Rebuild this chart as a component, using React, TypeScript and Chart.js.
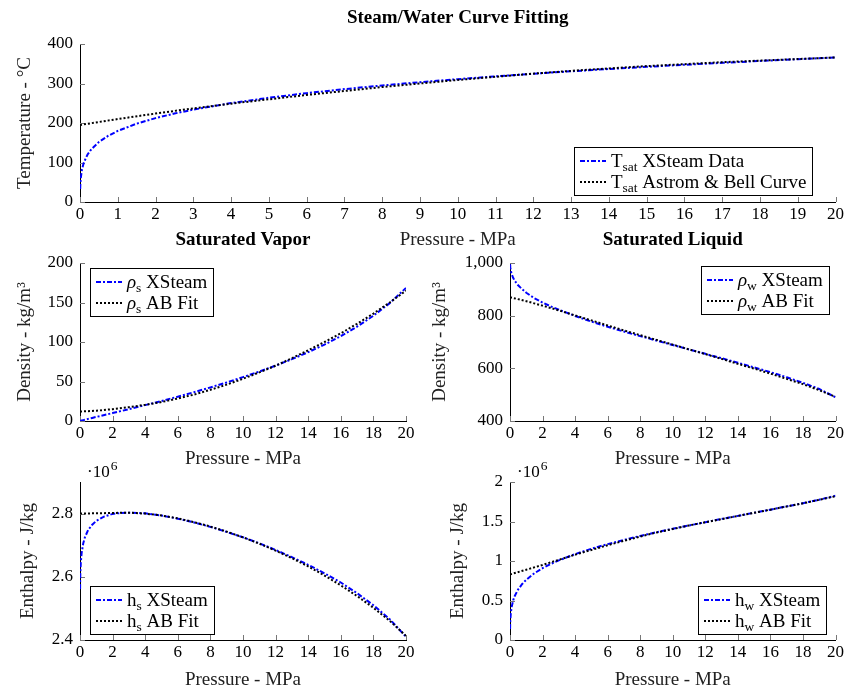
import React, { useEffect, useRef } from 'react';
import { Chart, registerables } from 'chart.js';

Chart.register(...registerables);

const FONT = '"Liberation Serif", "Times New Roman", serif';
const BLUE = '#0000ff';

// Pressure samples (MPa)
const pXSteam = [0.005, 0.01, 0.02, 0.05, 0.1, 0.2, 0.3, 0.5, 0.75, 1, 1.5, 2, 2.5, 3, 4, 5, 6, 7, 8, 9, 10, 11, 12, 13, 14, 15, 16, 17, 18, 19, 20];
const pFit = [0, 1, 2, 3, 4, 5, 6, 7, 8, 9, 10, 11, 12, 13, 14, 15, 16, 17, 18, 19, 20];

// Saturation temperature (°C)
const tsatXSteam = [32.9, 45.8, 60.1, 81.3, 99.6, 120.2, 133.5, 151.8, 167.8, 179.9, 198.3, 212.4, 224.0, 233.9, 250.4, 263.9, 275.6, 285.8, 295.0, 303.4, 311.0, 318.1, 324.7, 330.9, 336.7, 342.2, 347.4, 352.3, 357.0, 361.5, 365.8];
const tsatFit = [195, 210, 224, 237, 249, 260, 271, 281, 291, 300, 309, 317, 325, 332, 338, 344, 349, 354, 358, 362, 366];

// Saturated vapor density (kg/m3)
const rhoSXSteam = [0.04, 0.07, 0.13, 0.31, 0.59, 1.13, 1.65, 2.67, 3.92, 5.15, 7.59, 10.04, 12.5, 15.0, 20.1, 25.35, 30.8, 36.5, 42.5, 48.8, 55.5, 62.6, 70.1, 78.3, 87.1, 96.7, 107.4, 119.5, 133.2, 149.2, 168.5];
const rhoSFit = [12, 13, 15, 17.5, 20.5, 24, 28.5, 33.5, 39.5, 46, 53.5, 61.5, 70, 79.5, 89.5, 100, 111, 123, 136, 150, 165];

// Saturated liquid density (kg/m3)
const rhoWXSteam = [995.0, 989.8, 983.1, 971.0, 958.4, 942.9, 931.8, 915.3, 900.4, 887.1, 866.0, 849.8, 835.4, 822.7, 798.9, 777.4, 758.0, 739.7, 722.2, 705.4, 688.4, 671.8, 655.1, 638.4, 621.4, 603.5, 585.4, 566.0, 545.2, 521.6, 490.2];
const rhoWFit = [870, 855, 838, 820, 801, 782, 763, 744, 726, 708, 690, 672, 654, 636, 617, 599, 580, 560, 540, 517, 492];

// Saturated vapor enthalpy (x10^6 J/kg)
const hSXSteam = [2.561, 2.584, 2.609, 2.646, 2.675, 2.706, 2.725, 2.748, 2.765, 2.777, 2.791, 2.799, 2.802, 2.803, 2.801, 2.794, 2.784, 2.772, 2.758, 2.742, 2.725, 2.706, 2.685, 2.662, 2.638, 2.611, 2.582, 2.548, 2.510, 2.466, 2.410];
const hSFit = [2.800, 2.801, 2.802, 2.803, 2.800, 2.794, 2.785, 2.773, 2.759, 2.743, 2.725, 2.705, 2.683, 2.659, 2.633, 2.604, 2.573, 2.539, 2.502, 2.461, 2.413];

// Saturated liquid enthalpy (x10^6 J/kg)
const hWXSteam = [0.138, 0.192, 0.251, 0.340, 0.417, 0.505, 0.561, 0.640, 0.709, 0.763, 0.845, 0.909, 0.962, 1.008, 1.087, 1.155, 1.214, 1.267, 1.317, 1.364, 1.408, 1.450, 1.491, 1.532, 1.571, 1.611, 1.650, 1.691, 1.732, 1.776, 1.827];
const hWFit = [0.83, 0.89, 0.95, 1.015, 1.08, 1.14, 1.20, 1.255, 1.31, 1.36, 1.405, 1.45, 1.49, 1.53, 1.57, 1.61, 1.65, 1.69, 1.73, 1.775, 1.82];

const toPoints = (xs: number[], ys: number[]) => xs.map((x, i) => ({ x, y: ys[i] }));

const TICK_SIZE = 17;
const TEXT_SIZE = 19;
const SUB_SIZE = 13.5;
const LH = TEXT_SIZE * 1.2;

const innerTicks = {
  id: 'innerTicks',
  beforeDatasetsDraw(chart: any) {
    const { ctx, chartArea: a, scales } = chart;
    ctx.save();
    ctx.strokeStyle = '#777';
    ctx.lineWidth = 1;
    const xs = scales.x;
    const ys = scales.y;
    xs.ticks.forEach((t: any) => {
      const px = Math.round(xs.getPixelForValue(t.value)) + 0.5;
      ctx.beginPath();
      ctx.moveTo(px, a.bottom);
      ctx.lineTo(px, a.bottom - 5);
      ctx.stroke();
    });
    ys.ticks.forEach((t: any) => {
      const py = Math.round(ys.getPixelForValue(t.value)) + 0.5;
      ctx.beginPath();
      ctx.moveTo(a.left, py);
      ctx.lineTo(a.left + 5, py);
      ctx.stroke();
    });
    ctx.restore();
  },
};

const sciLabel = {
  id: 'sciLabel',
  afterDraw(chart: any, _a: any, opts: any) {
    if (!opts || !opts.text) return;
    const { ctx, chartArea: a } = chart;
    ctx.save();
    ctx.fillStyle = '#000';
    ctx.textBaseline = 'alphabetic';
    ctx.textAlign = 'left';
    const x = a.left + 7;
    const base = a.top - 5;
    ctx.font = `${TICK_SIZE}px ${FONT}`;
    ctx.fillText(opts.text, x, base);
    const w = ctx.measureText(opts.text).width;
    ctx.font = `${SUB_SIZE}px ${FONT}`;
    ctx.fillText(opts.sup, x + w + 1, base - 7);
    ctx.restore();
  },
};

const boxLegend = {
  id: 'boxLegend',
  afterDraw(chart: any, _a: any, opts: any) {
    if (!opts || !opts.corner) return;
    const { ctx, chartArea: a } = chart;
    const items = chart.data.datasets.map((ds: any) => {
      const m = /^(\S+?)_(\S+)(.*)$/.exec(ds.label) || [ds.label, ds.label, '', ''];
      return { main: m[1], sub: m[2], rest: m[3], ds };
    });
    const mainFont = (it: any) => (/[\u0370-\u03ff]/.test(it.main) ? 'italic ' : '') + `${TEXT_SIZE}px ${FONT}`;
    ctx.save();
    const measure = (it: any) => {
      ctx.font = mainFont(it);
      let w = ctx.measureText(it.main).width;
      ctx.font = `${SUB_SIZE}px ${FONT}`;
      w += ctx.measureText(it.sub).width;
      ctx.font = `${TEXT_SIZE}px ${FONT}`;
      w += ctx.measureText(it.rest).width;
      return w;
    };
    const textW = Math.max(...items.map(measure));
    const padL = 6, lineLen = 26, gap = 5, padR = 7, rowH = 21, padT = 3.5;
    const w = Math.round(padL + lineLen + gap + textW + padR);
    const h = Math.round(padT * 2 + rowH * items.length);
    let x = opts.corner[1] === 'l' ? a.left + opts.dx : a.right - opts.dx - w;
    let y = opts.corner[0] === 't' ? a.top + opts.dy : a.bottom - opts.dy - h;
    x = Math.round(x);
    y = Math.round(y);
    ctx.fillStyle = '#fff';
    ctx.fillRect(x, y, w, h);
    ctx.strokeStyle = '#000';
    ctx.lineWidth = 1;
    ctx.strokeRect(x + 0.5, y + 0.5, w - 1, h - 1);
    items.forEach((it: any, i: number) => {
      const cy = Math.round(y + padT + rowH * (i + 0.5));
      ctx.save();
      ctx.strokeStyle = it.ds.borderColor;
      ctx.lineWidth = it.ds.borderWidth;
      ctx.setLineDash(it.ds.borderDash || []);
      ctx.beginPath();
      ctx.moveTo(x + padL, cy);
      ctx.lineTo(x + padL + lineLen, cy);
      ctx.stroke();
      ctx.restore();
      let tx = x + padL + lineLen + gap;
      const base = cy + 6;
      ctx.fillStyle = '#000';
      ctx.textBaseline = 'alphabetic';
      ctx.textAlign = 'left';
      ctx.font = mainFont(it);
      ctx.fillText(it.main, tx, base);
      tx += ctx.measureText(it.main).width;
      ctx.font = `${SUB_SIZE}px ${FONT}`;
      ctx.fillText(it.sub, tx, base + 4);
      tx += ctx.measureText(it.sub).width;
      ctx.font = `${TEXT_SIZE}px ${FONT}`;
      ctx.fillText(it.rest, tx, base);
    });
    ctx.restore();
  },
};

type Panel = {
  key: string;
  canvas: { x: number; y: number; w: number; h: number };
  area: { l: number; t: number; r: number; b: number };
  title: string;
  titleCY: number;
  yTitle: string;
  yTitleCX: number;
  xTitleCY: number;
  yMin: number;
  yMax: number;
  yStep: number;
  xStep: number;
  xs: number[];
  fit: number[];
  labels: [string, string];
  legend: { corner: string; dx: number; dy: number };
  sci?: { text: string; sup: string };
};

const panels: Panel[] = [
  {
    key: 'tsat',
    canvas: { x: 0, y: 0, w: 846, h: 255 },
    area: { l: 80, t: 44, r: 836, b: 202 },
    title: 'Steam/Water Curve Fitting', titleCY: 18,
    yTitle: 'Temperature - °C', yTitleCX: 25, xTitleCY: 240,
    yMin: 0, yMax: 400, yStep: 100, xStep: 1,
    xs: tsatXSteam, fit: tsatFit,
    labels: ['T_sat XSteam Data', 'T_sat Astrom & Bell Curve'],
    legend: { corner: 'br', dx: 23, dy: 6 },
  },
  {
    key: 'rhos',
    canvas: { x: 0, y: 225, w: 420, h: 245 },
    area: { l: 80, t: 263, r: 406, b: 421 },
    title: 'Saturated Vapor', titleCY: 240,
    yTitle: 'Density - kg/m³', yTitleCX: 25, xTitleCY: 459,
    yMin: 0, yMax: 200, yStep: 50, xStep: 2,
    xs: rhoSXSteam, fit: rhoSFit,
    labels: ['ρ_s XSteam', 'ρ_s AB Fit'],
    legend: { corner: 'tl', dx: 10, dy: 5 },
  },
  {
    key: 'rhow',
    canvas: { x: 426, y: 225, w: 420, h: 245 },
    area: { l: 510, t: 263, r: 836, b: 421 },
    title: 'Saturated Liquid', titleCY: 240,
    yTitle: 'Density - kg/m³', yTitleCX: 440, xTitleCY: 459,
    yMin: 400, yMax: 1000, yStep: 200, xStep: 2,
    xs: rhoWXSteam, fit: rhoWFit,
    labels: ['ρ_w XSteam', 'ρ_w AB Fit'],
    legend: { corner: 'tr', dx: 6, dy: 3 },
  },
  {
    key: 'hs',
    canvas: { x: 0, y: 445, w: 420, h: 255 },
    area: { l: 80, t: 482, r: 406, b: 640 },
    title: '', titleCY: 0,
    yTitle: 'Enthalpy - J/kg', yTitleCX: 28, xTitleCY: 680,
    yMin: 2.4, yMax: 2.9, yStep: 0.2, xStep: 2,
    xs: hSXSteam, fit: hSFit,
    labels: ['h_s XSteam', 'h_s AB Fit'],
    legend: { corner: 'bl', dx: 10, dy: 5 },
    sci: { text: '·10', sup: '6' },
  },
  {
    key: 'hw',
    canvas: { x: 426, y: 445, w: 420, h: 255 },
    area: { l: 510, t: 482, r: 836, b: 640 },
    title: '', titleCY: 0,
    yTitle: 'Enthalpy - J/kg', yTitleCX: 458, xTitleCY: 680,
    yMin: 0, yMax: 2, yStep: 0.5, xStep: 2,
    xs: hWXSteam, fit: hWFit,
    labels: ['h_w XSteam', 'h_w AB Fit'],
    legend: { corner: 'br', dx: 9, dy: 5 },
    sci: { text: '·10', sup: '6' },
  },
];

const fmtTick = (v: any) => Number(v).toLocaleString('en-US', { maximumFractionDigits: 3 });

function buildConfig(p: Panel): any {
  const c = p.canvas;
  const topOffset = p.area.t - c.y;
  const titleCY = p.titleCY - c.y;
  const tPadTop = titleCY - LH / 2;
  const tPadBottom = topOffset - LH - tPadTop;
  const tickFont = { family: FONT, size: TICK_SIZE };
  const textFont = { family: FONT, size: TEXT_SIZE };
  return {
    type: 'line',
    data: {
      datasets: [
        {
          label: p.labels[0],
          data: toPoints(pXSteam, p.xs),
          borderColor: BLUE,
          borderWidth: 2,
          borderDash: [5, 2, 2, 2],
          pointRadius: 0,
          fill: false,
          tension: 0,
          order: 2,
        },
        {
          label: p.labels[1],
          data: toPoints(pFit, p.fit),
          borderColor: '#000',
          borderWidth: 2,
          borderDash: [2, 2],
          pointRadius: 0,
          fill: false,
          tension: 0,
          order: 1,
        },
      ],
    },
    options: {
      responsive: false,
      animation: false,
      events: [],
      layout: {
        padding: {
          top: p.title ? 0 : topOffset,
          right: c.x + c.w - p.area.r,
          left: 0,
          bottom: 0,
        },
      },
      plugins: {
        legend: { display: false },
        tooltip: { enabled: false },
        title: p.title
          ? {
              display: true,
              text: p.title,
              fullSize: false,
              color: '#000',
              font: { family: FONT, size: TEXT_SIZE, weight: 'bold' },
              padding: { top: tPadTop, bottom: tPadBottom },
            }
          : { display: false },
        boxLegend: p.legend,
        sciLabel: p.sci || {},
      },
      scales: {
        x: {
          type: 'linear',
          min: 0,
          max: 20,
          grid: { display: false, drawTicks: false },
          border: { display: true, color: '#000', width: 1 },
          ticks: { stepSize: p.xStep, font: tickFont, color: '#000', padding: 2, autoSkip: false, maxRotation: 0, callback: fmtTick },
          title: {
            display: true,
            text: 'Pressure - MPa',
            color: '#222',
            font: textFont,
            padding: { top: 0, bottom: c.y + c.h - p.xTitleCY - LH / 2 },
          },
          afterFit: (s: any) => {
            s.height = c.y + c.h - p.area.b;
          },
        },
        y: {
          type: 'linear',
          min: p.yMin,
          max: p.yMax,
          grid: { display: false, drawTicks: false },
          border: { display: true, color: '#000', width: 1 },
          ticks: { stepSize: p.yStep, font: tickFont, color: '#000', padding: 7, includeBounds: false, callback: fmtTick },
          title: {
            display: true,
            text: p.yTitle,
            color: '#222',
            font: textFont,
            padding: { top: p.yTitleCX - c.x - LH / 2, bottom: 0 },
          },
          afterFit: (s: any) => {
            s.width = p.area.l - c.x;
          },
        },
      },
    },
    plugins: [innerTicks, boxLegend, sciLabel],
  };
}

function PanelChart({ p }: { p: Panel }) {
  const ref = useRef<HTMLCanvasElement | null>(null);
  useEffect(() => {
    if (!ref.current) return;
    const chart = new Chart(ref.current, buildConfig(p));
    return () => chart.destroy();
  }, [p]);
  return (
    <canvas
      ref={ref}
      width={p.canvas.w}
      height={p.canvas.h}
      style={{ position: 'absolute', left: p.canvas.x, top: p.canvas.y, width: p.canvas.w, height: p.canvas.h }}
    />
  );
}

export default function App() {
  return (
    <div
      style={{
        position: 'absolute',
        left: 0,
        top: 0,
        width: 846,
        height: 689,
        overflow: 'hidden',
        background: '#fff',
      }}
    >
      {panels.map((p) => (
        <PanelChart key={p.key} p={p} />
      ))}
    </div>
  );
}
